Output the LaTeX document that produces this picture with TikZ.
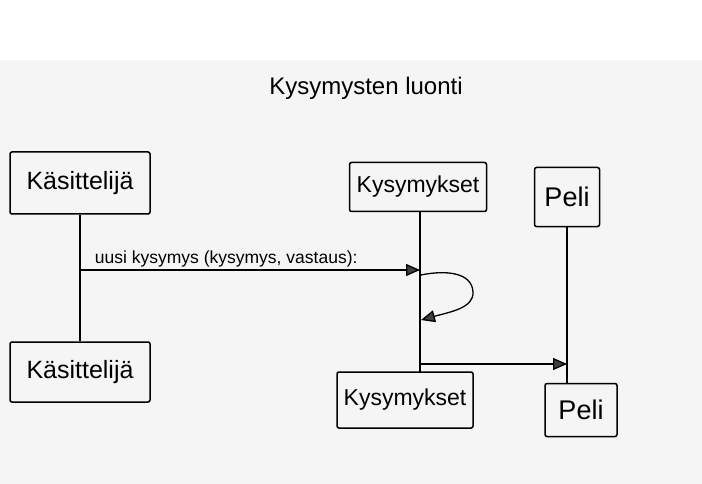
\documentclass[tikz,border=0pt]{standalone}
\usepackage{fontspec}
\setmainfont{Liberation Sans}
\usetikzlibrary{arrows.meta}
\begin{document}
\begin{tikzpicture}[x=1pt,y=-1pt,
  obj/.style={draw, line width=1.5pt, rounded corners=2pt, inner sep=0pt},
  fk/.style={font=\fontsize{25}{28}\selectfont},
  fq/.style={font=\fontsize{23}{26}\selectfont},
  fp/.style={font=\fontsize{27}{30}\selectfont},
  life/.style={line width=1.3pt},
  msg/.style={line width=1.3pt, -{Triangle[length=14pt,width=12pt,fill=black!75]}},
  lbl/.style={font=\fontsize{17.5}{20}\selectfont, inner sep=1pt}]
\useasboundingbox (0,0) rectangle (702,484);
\fill[white] (0,0) rectangle (702,60);
\fill[black!4] (0,60) rectangle (702,484);
\node[font=\fontsize{24}{28}\selectfont] (title) at (366,88) {Kysymysten luonti};
% top objects
\node[obj, fk, minimum width=140pt, minimum height=62pt] (k1) at (80,183) {Käsittelijä};
\node[obj, fq, minimum width=137pt, minimum height=49pt] (q1) at (418,187) {Kysymykset};
\node[obj, fp, minimum width=65pt, minimum height=59pt] (p1) at (567,197) {Peli};
% bottom objects
\node[obj, fk, minimum width=140pt, minimum height=60pt] (k2) at (80,372) {Käsittelijä};
\node[obj, fq, minimum width=136pt, minimum height=56pt] (q2) at (405,400) {Kysymykset};
\node[obj, fp, minimum width=72pt, minimum height=53pt] (p2) at (581,410) {Peli};
% lifelines
\coordinate (qtop) at (420,212);
\coordinate (qbot) at (420,372);
\coordinate (ptop) at (567,227);
\coordinate (pbot) at (567,384);
\draw[life] (k1.south) -- (k2.north);
\draw[life] (qtop) -- (qbot);
\draw[life] (ptop) -- (pbot);
% messages
\coordinate (m1s) at (80,270);
\coordinate (m1e) at (420,270);
\draw[msg] (m1s) -- node[lbl, above, pos=0.43, yshift=1pt] {uusi kysymys (kysymys, vastaus):} (m1e);
\coordinate (l1) at (421,275);
\coordinate (l2) at (421,320);
\draw[msg] (l1) .. controls (445,270) and (472,272) .. (473,292) .. controls (474,308) and (450,312) .. (l2);
\coordinate (m2s) at (420,364);
\coordinate (m2e) at (567,364);
\draw[msg] (m2s) -- (m2e);
\end{tikzpicture}
\end{document}
